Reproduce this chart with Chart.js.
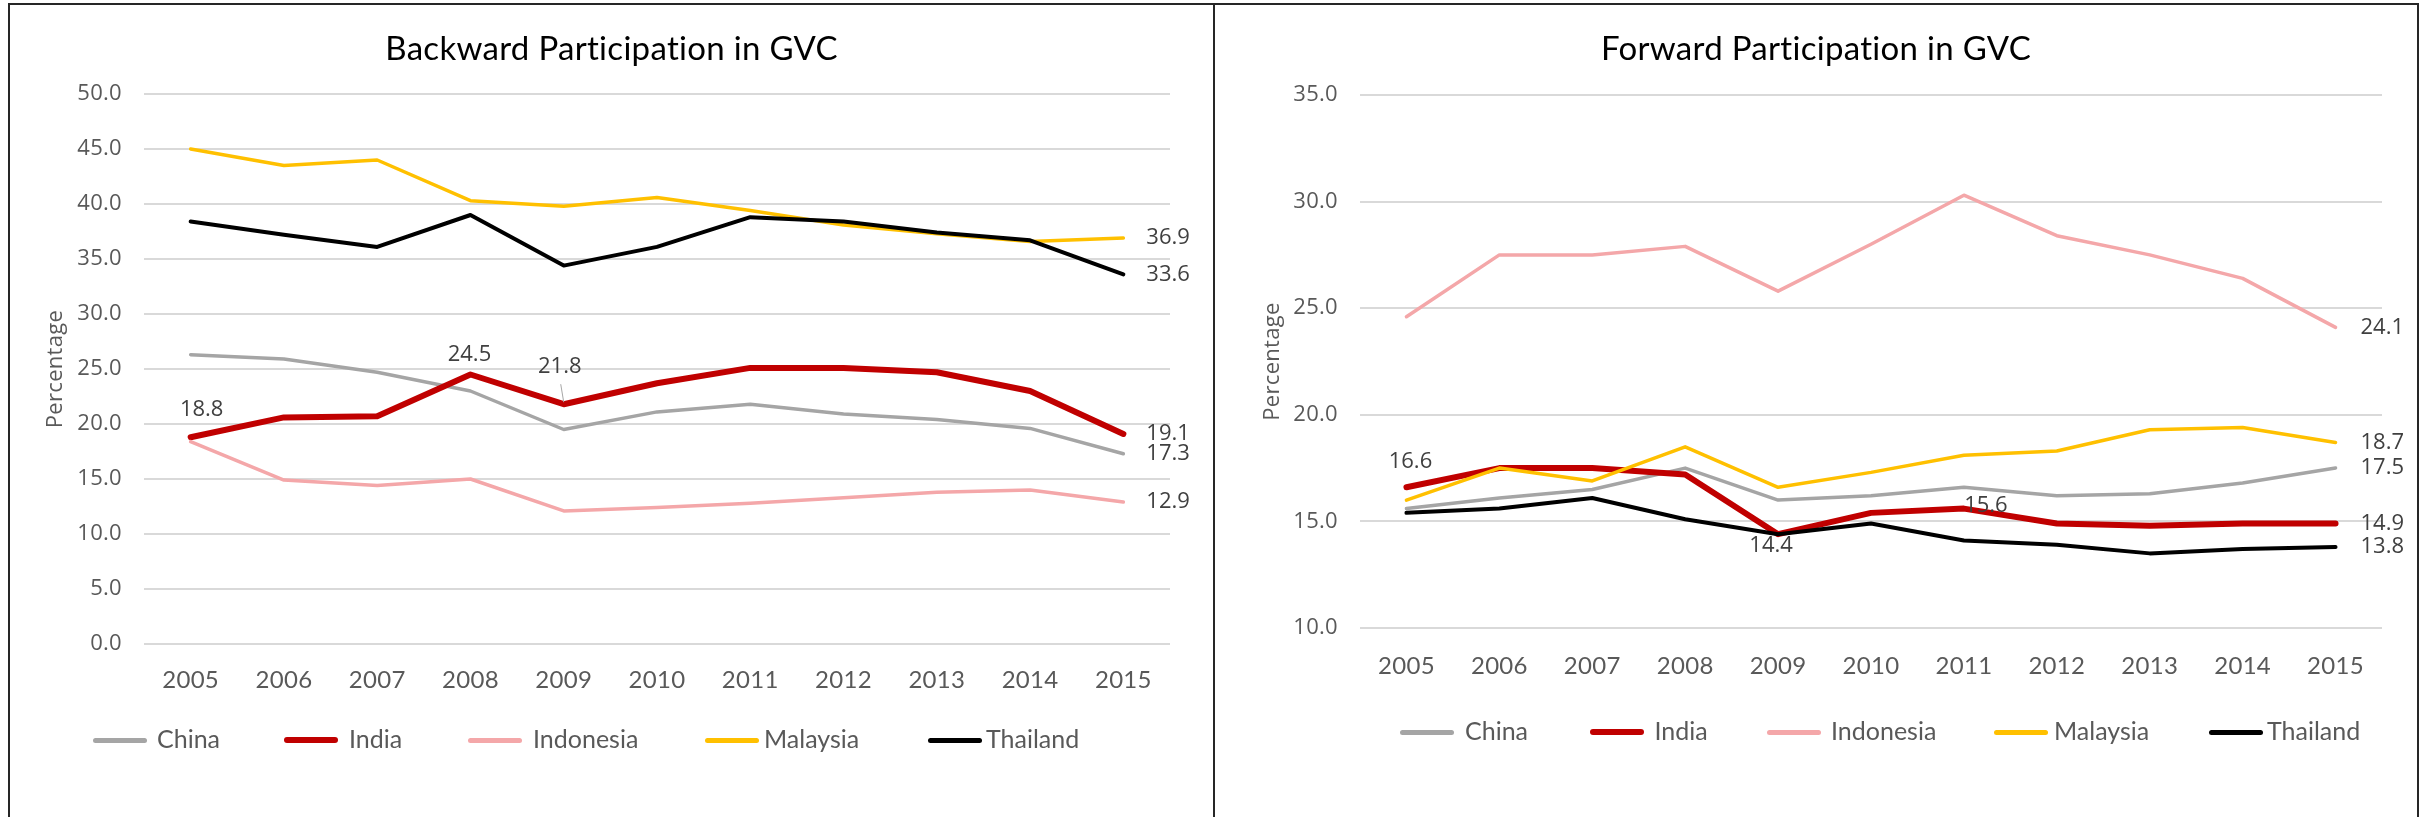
<!DOCTYPE html>
<html>
<head>
<meta charset="utf-8">
<script src="https://cdn.jsdelivr.net/npm/chart.js@4.4.1/dist/chart.umd.min.js"></script>
<style>
  body { margin: 0; background: #fff; width: 2430px; height: 817px; overflow: hidden; position: relative; }
  .panel { position: absolute; top: 3px; height: 830px; box-sizing: border-box; border-top: 2px solid #262626; }
  #leftPanel { left: 8px; width: 1207px; border-left: 2px solid #262626; border-right: 2px solid #262626; }
  #rightPanel { left: 1215px; width: 1204px; border-right: 2px solid #262626; }
  .box { position: absolute; left: 0; top: 0; width: 100%; height: 812px; }
  .legend { position: absolute; left: 0; width: 100%; height: 0; }
  .swatch { position: absolute; width: 54px; border-radius: 3px; }
  .ltext { position: absolute; font: 25px Lato; color: #595959; line-height: 25px; white-space: nowrap; }
</style>
</head>
<body>
<div class="panel" id="leftPanel">
  <div class="box"><canvas id="backChart"></canvas></div>
  <div class="legend" id="backLegend" style="top:735px"></div>
</div>
<div class="panel" id="rightPanel">
  <div class="box"><canvas id="fwdChart"></canvas></div>
  <div class="legend" id="fwdLegend" style="top:727px"></div>
</div>
<script>
'use strict';

const years = ['2005', '2006', '2007', '2008', '2009', '2010', '2011', '2012', '2013', '2014', '2015'];
const countries = ['China', 'India', 'Indonesia', 'Malaysia', 'Thailand'];

// Backward participation
const backChina     = [26.3, 25.9, 24.7, 23.0, 19.5, 21.1, 21.8, 20.9, 20.4, 19.6, 17.3];
const backIndia     = [18.8, 20.6, 20.7, 24.5, 21.8, 23.7, 25.1, 25.1, 24.7, 23.0, 19.1];
const backIndonesia = [18.4, 14.9, 14.4, 15.0, 12.1, 12.4, 12.8, 13.3, 13.8, 14.0, 12.9];
const backMalaysia  = [45.0, 43.5, 44.0, 40.3, 39.8, 40.6, 39.4, 38.1, 37.3, 36.6, 36.9];
const backThailand  = [38.4, 37.2, 36.1, 39.0, 34.4, 36.1, 38.8, 38.4, 37.4, 36.7, 33.6];
const backTicks     = [0, 5, 10, 15, 20, 25, 30, 35, 40, 45, 50];

// Forward participation
const fwdChina     = [15.6, 16.1, 16.5, 17.5, 16.0, 16.2, 16.6, 16.2, 16.3, 16.8, 17.5];
const fwdIndia     = [16.6, 17.5, 17.5, 17.2, 14.4, 15.4, 15.6, 14.9, 14.8, 14.9, 14.9];
const fwdIndonesia = [24.6, 27.5, 27.5, 27.9, 25.8, 28.0, 30.3, 28.4, 27.5, 26.4, 24.1];
const fwdMalaysia  = [16.0, 17.5, 16.9, 18.5, 16.6, 17.3, 18.1, 18.3, 19.3, 19.4, 18.7];
const fwdThailand  = [15.4, 15.6, 16.1, 15.1, 14.4, 14.9, 14.1, 13.9, 13.5, 13.7, 13.8];
const fwdTicks     = [10, 15, 20, 25, 30, 35];

const colors = ['#A5A5A5', '#C00000', '#F4A7A9', '#FFC000', '#000000'];
const widths = [3.5, 6, 3.5, 3.5, 4];

/* sin ligaduras en título y ejes */
const spacing = {
    id: 'spacing',
    beforeDraw(chart) { chart.ctx.letterSpacing = '0.3px'; },
    beforeDatasetsDraw(chart) { chart.ctx.letterSpacing = '0px'; }
};

/* etiquetas de datos */
const pointLabels = {
    id: 'pointLabels',
    afterDatasetsDraw(chart, args, opts) {
        const ctx = chart.ctx;
        ctx.save();
        ctx.font = '22px "Open Sans"';
        ctx.fillStyle = '#404040';
        ctx.textBaseline = 'middle';
        opts.items.forEach(function(it) {
            const pt = chart.getDatasetMeta(it.ds).data[it.i];
            const v = chart.data.datasets[it.ds].data[it.i];
            ctx.textAlign = it.align || 'center';
            ctx.fillText(v.toFixed(1), pt.x + it.dx, pt.y + it.dy);
            if (it.leader) {
                ctx.strokeStyle = '#A6A6A6';
                ctx.lineWidth = 1;
                ctx.beginPath();
                ctx.moveTo(pt.x - 3, pt.y - 20);
                ctx.lineTo(pt.x, pt.y - 2);
                ctx.stroke();
            }
        });
        ctx.restore();
    }
};

function endLabels(dx) {
    return countries.map(function(c, k) {
        return { ds: k, i: years.length - 1, dx: dx, dy: 0, align: 'left' };
    });
}

function makeChart(id, title, series, ticks, lay) {
    const ctx = document.getElementById(id).getContext('2d');
    return new Chart(ctx, {
        type: 'line',
        data: {
            labels: years,
            datasets: series.map(function(d, k) {
                return {
                    label: countries[k],
                    data: d,
                    borderColor: colors[k],
                    backgroundColor: colors[k],
                    borderWidth: widths[k],
                    borderCapStyle: 'round',
                    borderJoinStyle: 'round',
                    pointRadius: 0,
                    tension: 0,
                    order: 5 - k
                };
            })
        },
        plugins: [spacing, pointLabels],
        options: {
            responsive: true,
            maintainAspectRatio: false,
            animation: false,
            layout: { padding: 0 },
            plugins: {
                legend: { display: false },
                tooltip: { enabled: false },
                title: {
                    display: true,
                    text: title,
                    color: '#000',
                    font: { family: 'Lato', size: 33, weight: 'normal', lineHeight: 1.2 },
                    padding: { top: 44 - 19.8, bottom: lay.top - 44 - 19.8 }
                },
                pointLabels: { items: lay.labels }
            },
            scales: {
                x: {
                    offset: true,
                    grid: { display: false, drawTicks: false },
                    border: { display: false },
                    ticks: { color: '#595959', font: { family: 'Lato', size: 24 }, padding: lay.xPad },
                    afterFit: function(s) { s.height = 812 - lay.bottom; }
                },
                y: {
                    min: ticks[0],
                    max: ticks[ticks.length - 1],
                    afterBuildTicks: function(s) { s.ticks = ticks.map(function(v) { return { value: v }; }); },
                    grid: { color: '#D9D9D9', lineWidth: 2, drawTicks: false },
                    border: { display: false },
                    ticks: {
                        color: '#595959',
                        font: { family: 'Open Sans', size: 22 },
                        padding: 22,
                        callback: function(v) { return Number(v).toFixed(1); }
                    },
                    title: {
                        display: true,
                        text: 'Percentage',
                        color: '#595959',
                        font: { family: 'Open Sans', size: 22 },
                        padding: { top: lay.yTitle, bottom: 0 }
                    },
                    afterFit: function(s) { s.width = lay.left; }
                },
                // espacio a la derecha sin mover el título
                yRight: {
                    type: 'linear',
                    position: 'right',
                    grid: { display: false, drawTicks: false },
                    border: { display: false },
                    ticks: { display: false },
                    afterFit: function(s) { s.width = lay.right; }
                }
            }
        }
    });
}

function makeLegend(id, pos, gaps) {
    const el = document.getElementById(id);
    countries.forEach(function(c, k) {
        const sw = document.createElement('div');
        sw.className = 'swatch';
        sw.style.left = pos[k] + 'px';
        sw.style.height = (k === 1 ? 6 : 5) + 'px';
        sw.style.top = (k === 1 ? -3 : -2.5) + 'px';
        sw.style.background = colors[k];
        el.appendChild(sw);
        const tx = document.createElement('div');
        tx.className = 'ltext';
        tx.style.left = (pos[k] + gaps[k]) + 'px';
        tx.style.top = '-14px';
        tx.textContent = c;
        el.appendChild(tx);
    });
}

makeChart('backChart', 'Backward Participation in GVC',
    [backChina, backIndia, backIndonesia, backMalaysia, backThailand], backTicks, {
        left: 134, right: 43, top: 89, bottom: 639, xPad: 21.6, yTitle: 32.8,
        labels: endLabels(23).concat([
            { ds: 1, i: 0, dx: 11, dy: -27 },
            { ds: 1, i: 3, dx: -1, dy: -20 },
            { ds: 1, i: 4, dx: -4, dy: -37, leader: true }
        ])
    });

makeChart('fwdChart', 'Forward Participation in GVC',
    [fwdChina, fwdIndia, fwdIndonesia, fwdMalaysia, fwdThailand], fwdTicks, {
        left: 145, right: 35, top: 90, bottom: 623, xPad: 23.6, yTitle: 44.8,
        labels: endLabels(25).concat([
            { ds: 1, i: 0, dx: 4, dy: -26 },
            { ds: 1, i: 4, dx: -7, dy: 12 },
            { ds: 1, i: 6, dx: 22, dy: -3 }
        ])
    });

makeLegend('backLegend', [83, 274, 458, 695, 918], [64, 65, 65, 59, 58]);
makeLegend('fwdLegend', [184.5, 375, 552, 779, 994], [65.5, 64.5, 64, 60, 58]);
</script>
</body>
</html>
